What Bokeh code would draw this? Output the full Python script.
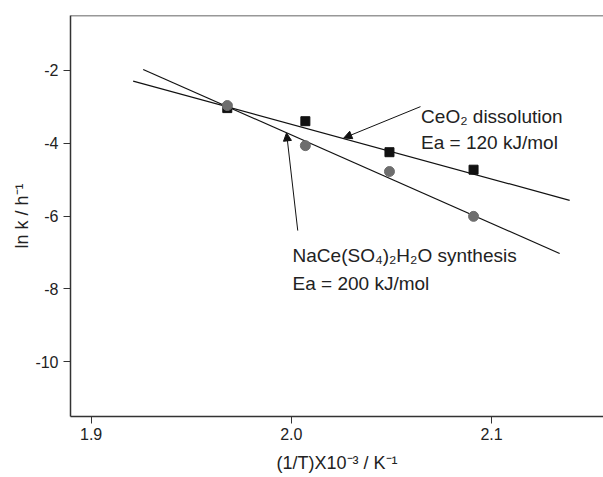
from bokeh.plotting import figure
from bokeh.models import Label, Arrow, NormalHead, Span, FixedTicker
from bokeh.embed import file_html
from bokeh.resources import INLINE

# ---- data ----
inv_T = [1.968, 2.007, 2.049, 2.091]            # (1/T) x 10^-3 / K^-1
ln_k_ceo2 = [-3.04, -3.40, -4.25, -4.73]        # CeO2 dissolution (squares)
ln_k_syn = [-2.97, -4.07, -4.78, -6.01]         # NaCe(SO4)2H2O synthesis (circles)

ceo2_fit_x = [1.921, 2.139]
ceo2_fit_y = [-2.30, -5.57]
syn_fit_x = [1.926, 2.134]
syn_fit_y = [-1.98, -7.03]

x_ticks = [1.9, 2.0, 2.1]
x_tick_labels = ["1.9", "2.0", "2.1"]
y_ticks = [-2, -4, -6, -8, -10]
y_tick_labels = ["-2", "-4", "-6", "-8", "-10"]

FONT = "Liberation Sans"
AX = "#333333"

p = figure(frame_width=533, frame_height=401, output_backend="svg", toolbar_location=None,
           x_range=(1.8897, 2.1559), y_range=(-11.5, -0.5),
           min_border_left=70, min_border_top=15, min_border_right=0, min_border_bottom=61)
p.background_fill_color = "white"
p.border_fill_color = "white"
p.outline_line_color = None
p.grid.visible = False

for ax in (p.xaxis, p.yaxis):
    ax.axis_line_color = AX
    ax.axis_line_width = 1.5
    ax.major_tick_line_color = AX
    ax.major_tick_line_width = 1
    ax.major_tick_out = 7
    ax.major_tick_in = 0
    ax.minor_tick_line_color = None
    ax.major_label_text_font = FONT
    ax.major_label_text_font_size = "16px"
    ax.major_label_text_color = "#222222"
    ax.axis_label_text_font = FONT
    ax.axis_label_text_font_size = "18px"
    ax.axis_label_text_font_style = "normal"
    ax.axis_label_text_color = "#222222"

p.xaxis.ticker = FixedTicker(ticks=x_ticks)
p.yaxis.ticker = FixedTicker(ticks=y_ticks)
p.xaxis.major_label_overrides = dict(zip(x_ticks, x_tick_labels))
p.yaxis.major_label_overrides = dict(zip(y_ticks, y_tick_labels))
p.xaxis.major_label_standoff = 4
p.yaxis.major_label_standoff = 5
p.xaxis.axis_label = "(1/T)X10\u207b\u00b3 / K\u207b\u00b9"
p.yaxis.axis_label = "ln k / h\u207b\u00b9"
p.xaxis.axis_label_standoff = 10
p.yaxis.axis_label_standoff = 0

p.add_layout(Span(location=-0.5, dimension="width", line_color=AX, line_width=1.5))

# fit lines
p.line(ceo2_fit_x, ceo2_fit_y, line_color="#111111", line_width=1.2)
p.line(syn_fit_x, syn_fit_y, line_color="#111111", line_width=1.2)

# data points
p.scatter(inv_T, ln_k_ceo2, marker="square", size=9, fill_color="#111111", line_color="#111111")
p.scatter(inv_T, ln_k_syn, marker="circle", size=10, fill_color="#6e6e6e", line_color="#6e6e6e")

# arrows
p.add_layout(Arrow(x_start=2.0645, y_start=-3.00, x_end=2.0262, y_end=-3.86,
                   line_color="#111111", line_width=1,
                   end=NormalHead(size=8, fill_color="#111111", line_color="#111111")))
p.add_layout(Arrow(x_start=2.0032, y_start=-6.40, x_end=1.9976, y_end=-3.72,
                   line_color="#111111", line_width=1,
                   end=NormalHead(size=8, fill_color="#111111", line_color="#111111")))

def lab(x, y, t):
    p.add_layout(Label(x=x, y=y, text=t, text_font=FONT, text_font_size="19px",
                       text_color="#222222", text_baseline="alphabetic", text_align="left"))

lab(2.0648, -3.27, "CeO\u2082 dissolution")
lab(2.0648, -3.98, "Ea = 120 kJ/mol")
lab(2.0006, -7.08, "NaCe(SO\u2084)\u2082H\u2082O synthesis")
lab(2.0006, -7.84, "Ea = 200 kJ/mol")

open("out.html", "w").write(file_html(p, INLINE))
